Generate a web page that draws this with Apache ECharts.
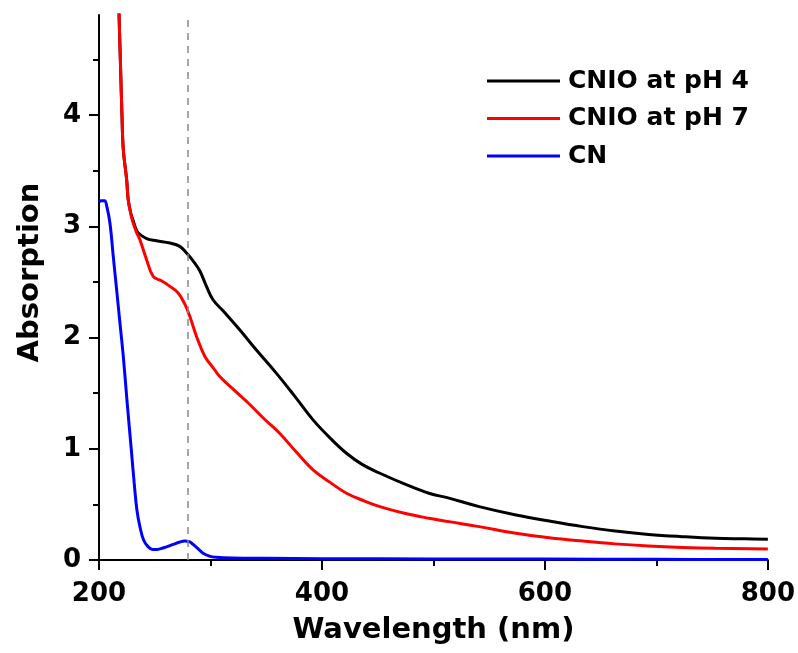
<!DOCTYPE HTML>
<html>
<head>
<meta http-equiv="Content-Type" content="text/html; charset=utf-8">
<title>ECharts</title>
<script src="https://cdn.jsdelivr.net/npm/echarts@6/dist/echarts.min.js" type="text/javascript"></script>
<style>
  body { margin: 0; background: #fff; }
</style>
</head>
<body>
<div id="main" style="width: 798px;height:653px;"></div>
<script type="text/javascript">
// wavelength (nm) / absorption readings
var ph4X = [217, 218, 219.4, 220.6, 221.8, 224.8, 226.2, 228.5, 230.7, 233, 235.2, 242.7, 251.6, 263.6, 272.5, 278.5, 284.4, 290.4, 296.4, 302.3, 311.3, 326.2, 341, 359, 375, 392, 408, 422, 436, 452, 475, 496, 514, 541, 574, 604, 634, 663, 693, 723, 753, 780, 800];
var ph4Y = [5.4, 4.9, 4.41, 4.0, 3.69, 3.42, 3.24, 3.12, 3.05, 2.98, 2.94, 2.89, 2.87, 2.85, 2.82, 2.76, 2.69, 2.60, 2.46, 2.34, 2.24, 2.07, 1.89, 1.68, 1.48, 1.26, 1.09, 0.96, 0.86, 0.78, 0.68, 0.60, 0.556, 0.48, 0.405, 0.35, 0.30, 0.26, 0.23, 0.21, 0.195, 0.19, 0.186];

var ph7X = [217, 218, 219.4, 220.6, 221.8, 224.8, 226.2, 228.5, 230.7, 233.5, 236.7, 242.7, 248.6, 256, 263.6, 271, 277, 281.5, 287.5, 295, 302.3, 308.3, 322, 335, 348, 362, 377, 392, 407, 422, 437, 452, 474, 496, 514, 541, 574, 604, 634, 663, 693, 723, 753, 800];
var ph7Y = [5.4, 4.9, 4.41, 4.0, 3.69, 3.42, 3.24, 3.11, 3.03, 2.95, 2.88, 2.70, 2.55, 2.51, 2.46, 2.40, 2.30, 2.19, 2.01, 1.83, 1.73, 1.65, 1.52, 1.40, 1.27, 1.14, 0.97, 0.81, 0.70, 0.60, 0.535, 0.48, 0.42, 0.375, 0.345, 0.30, 0.24, 0.20, 0.17, 0.145, 0.126, 0.113, 0.105, 0.10];

var cnX = [200, 202, 205, 207, 209.8, 212.8, 215.8, 218.8, 221.8, 225.3, 229, 231.5, 234, 236.7, 240, 244, 248, 252, 258, 266.5, 272, 277, 281, 284.4, 288, 293.4, 299, 305, 320, 350, 400, 500, 600, 700, 800];
var cnY = [3.22, 3.23, 3.23, 3.18, 3.03, 2.73, 2.43, 2.13, 1.83, 1.41, 0.99, 0.70, 0.45, 0.30, 0.18, 0.12, 0.095, 0.095, 0.11, 0.14, 0.16, 0.17, 0.165, 0.14, 0.11, 0.06, 0.035, 0.025, 0.018, 0.015, 0.012, 0.01, 0.008, 0.006, 0.005];

var names = ['CNIO at pH 4', 'CNIO at pH 7', 'CN'];
var yLabels = [0, 1, 2, 3, 4];
var yMinor = [0.5, 1.5, 2.5, 3.5, 4.5];
var markX = 280;

function pairs(xs, ys) {
    var out = [];
    for (var i = 0; i < xs.length; i++) out.push([xs[i], ys[i]]);
    return out;
}

var myChart = echarts.init(document.getElementById('main'));
var font = 'DejaVu Sans';

var option = {
    backgroundColor: '#fff',
    animation: false,
    grid: { left: 99, right: 28, top: 15, bottom: 93 },
    legend: {
        orient: 'vertical',
        left: 487,
        top: 68,
        padding: 0,
        icon: 'rect',
        itemWidth: 73,
        itemHeight: 3,
        itemGap: 11.5,
        data: names,
        textStyle: { fontFamily: font, fontWeight: 'bold', fontSize: 25, color: '#000', lineHeight: 26, padding: [0, 0, 0, 3] }
    },
    xAxis: {
        type: 'value',
        min: 200, max: 800, interval: 200,
        name: 'Wavelength (nm)',
        nameLocation: 'middle',
        nameGap: 56,
        nameTextStyle: { fontFamily: font, fontWeight: 'bold', fontSize: 29, color: '#000' },
        axisLine: { lineStyle: { color: '#000', width: 2 } },
        axisTick: { length: 10, lineStyle: { width: 2 } },
        minorTick: { show: true, splitNumber: 2, length: 6, lineStyle: { color: '#000', width: 2 } },
        axisLabel: { margin: 21, fontFamily: font, fontWeight: 'bold', fontSize: 26, color: '#000' },
        splitLine: { show: false }
    },
    yAxis: [{
        type: 'value',
        min: 0, max: 4.9,
        name: 'Absorption',
        nameLocation: 'middle',
        nameGap: 54,
        nameTextStyle: { fontFamily: font, fontWeight: 'bold', fontSize: 29, color: '#000', padding: [0, 0, 0, 30] },
        axisLine: { show: true, lineStyle: { color: '#000', width: 2 } },
        axisTick: { show: true, length: 10, customValues: yLabels, lineStyle: { width: 2 } },
        axisLabel: { margin: 18, customValues: yLabels, fontFamily: font, fontWeight: 'bold', fontSize: 26, color: '#000' },
        splitLine: { show: false }
    }, {
        // minor ticks only
        type: 'value',
        min: 0, max: 4.9,
        position: 'left',
        axisLine: { show: false },
        axisTick: { show: true, length: 6, customValues: yMinor, lineStyle: { color: '#000', width: 2 } },
        axisLabel: { show: false },
        splitLine: { show: false }
    }],
    series: [
        {
            name: names[0], type: 'line', data: pairs(ph4X, ph4Y),
            symbol: 'none', smooth: 0.4, clip: true,
            lineStyle: { color: '#000', width: 3 }, itemStyle: { color: '#000' },
            markLine: {
                silent: true, symbol: 'none', label: { show: false },
                lineStyle: { color: '#888', width: 1.5, type: [7, 6] },
                data: [{ xAxis: markX }]
            }
        },
        {
            name: names[1], type: 'line', data: pairs(ph7X, ph7Y),
            symbol: 'none', smooth: 0.4, clip: true,
            lineStyle: { color: '#ff0000', width: 3 }, itemStyle: { color: '#ff0000' }
        },
        {
            name: names[2], type: 'line', data: pairs(cnX, cnY),
            symbol: 'none', smooth: 0.4, clip: true,
            lineStyle: { color: '#0000ff', width: 3 }, itemStyle: { color: '#0000ff' }
        }
    ]
};

myChart.setOption(option);
</script>
</body>
</html>
